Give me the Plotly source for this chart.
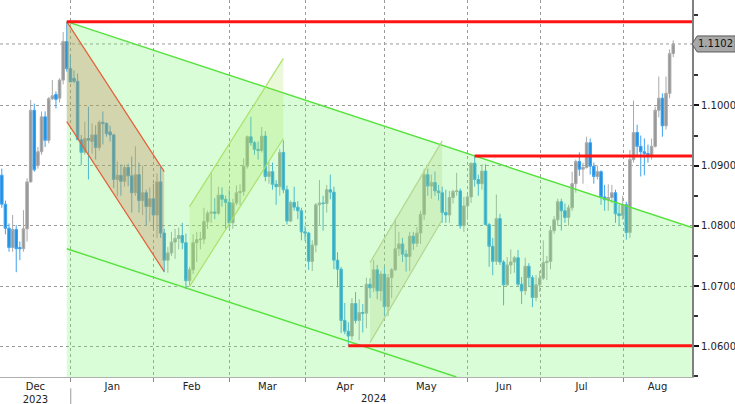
import plotly.graph_objects as go
import pandas as pd

# ---------------- data (EUR/USD daily candles) ----------------
dates = pd.bdate_range("2023-12-04", "2024-08-20")

opens = [
    1.0884, 1.0836, 1.0796, 1.0764, 1.0794, 1.0764, 1.0762, 1.0795, 1.0873, 1.0992,
    1.0900, 1.0923, 1.0981, 1.0942, 1.1011, 1.1018, 1.1012, 1.1042, 1.1106, 1.1061,
    # Jan
    1.1045, 1.1040, 1.0943, 1.0922, 1.0945, 1.0940, 1.0951, 1.0930, 1.0972, 1.0970,
    1.0956, 1.0951, 1.0877, 1.0884, 1.0874, 1.0897, 1.0883, 1.0855, 1.0885, 1.0842,
    1.0855, 1.0832, 1.0845,
    # Feb
    1.0818, 1.0873, 1.0788, 1.0743, 1.0755, 1.0773, 1.0779, 1.0784, 1.0772, 1.0709,
    1.0727, 1.0772, 1.0777, 1.0778, 1.0807, 1.0821, 1.0823, 1.0821, 1.0851, 1.0844,
    1.0839,
    # Mar
    1.0805, 1.0838, 1.0855, 1.0857, 1.0899, 1.0948, 1.0938, 1.0927, 1.0925, 1.0949,
    1.0882, 1.0890, 1.0869, 1.0865, 1.0922, 1.0860, 1.0808, 1.0839, 1.0831, 1.0825,
    1.0790,
    # Apr
    1.0788, 1.0741, 1.0768, 1.0835, 1.0838, 1.0837, 1.0860, 1.0856, 1.0743, 1.0728,
    1.0643, 1.0625, 1.0617, 1.0671, 1.0643, 1.0656, 1.0655, 1.0703, 1.0697, 1.0727,
    1.0692, 1.0720,
    # May
    1.0666, 1.0714, 1.0727, 1.0762, 1.0770, 1.0753, 1.0749, 1.0783, 1.0771, 1.0788,
    1.0819, 1.0885, 1.0866, 1.0872, 1.0858, 1.0855, 1.0822, 1.0818, 1.0847, 1.0857,
    1.0858, 1.0800, 1.0833,
    # Jun
    1.0848, 1.0904, 1.0877, 1.0870, 1.0891, 1.0802, 1.0766, 1.0741, 1.0812, 1.0740,
    1.0702, 1.0735, 1.0740, 1.0747, 1.0703, 1.0692, 1.0733, 1.0714, 1.0681, 1.0702,
    # Jul
    1.0713, 1.0739, 1.0741, 1.0792, 1.0810, 1.0840, 1.0825, 1.0814, 1.0830, 1.0870,
    1.0907, 1.0894, 1.0897, 1.0938, 1.0899, 1.0882, 1.0890, 1.0848, 1.0843, 1.0847,
    1.0855, 1.0820, 1.0817,
    # Aug
    1.0835, 1.0789, 1.0910, 1.0955, 1.0932, 1.0923, 1.0920, 1.0917, 1.0932, 1.0992,
    1.1012, 1.0966, 1.1020, 1.1086,
]
highs = [
    1.0895, 1.0842, 1.0804, 1.0818, 1.0801, 1.0774, 1.0826, 1.0879, 1.1009, 1.1003,
    1.0931, 1.0990, 1.0990, 1.1014, 1.1042, 1.1023, 1.1045, 1.1122, 1.1139, 1.1083,
    1.1058, 1.1053, 1.0951, 1.0973, 1.0998, 1.0970, 1.0967, 1.0975, 1.0990, 1.0972,
    1.0966, 1.0953, 1.0907, 1.0902, 1.0902, 1.0903, 1.0915, 1.0932, 1.0905, 1.0900,
    1.0860, 1.0864, 1.0870,
    1.0887, 1.0898, 1.0795, 1.0765, 1.0790, 1.0795, 1.0797, 1.0805, 1.0787, 1.0732,
    1.0786, 1.0790, 1.0790, 1.0830, 1.0825, 1.0888, 1.0846, 1.0865, 1.0864, 1.0850,
    1.0860,
    1.0845, 1.0867, 1.0869, 1.0912, 1.0950, 1.0981, 1.0941, 1.0940, 1.0964, 1.0957,
    1.0906, 1.0905, 1.0876, 1.0928, 1.0942, 1.0867, 1.0842, 1.0865, 1.0841, 1.0830,
    1.0800,
    1.0790, 1.0776, 1.0838, 1.0876, 1.0850, 1.0868, 1.0885, 1.0865, 1.0756, 1.0732,
    1.0672, 1.0640, 1.0680, 1.0690, 1.0678, 1.0670, 1.0714, 1.0713, 1.0743, 1.0735,
    1.0725, 1.0733,
    1.0720, 1.0730, 1.0812, 1.0790, 1.0780, 1.0760, 1.0790, 1.0790, 1.0798, 1.0825,
    1.0895, 1.0895, 1.0885, 1.0890, 1.0868, 1.0865, 1.0860, 1.0858, 1.0860, 1.0888,
    1.0862, 1.0848, 1.0852,
    1.0905, 1.0916, 1.0885, 1.0902, 1.0902, 1.0805, 1.0780, 1.0852, 1.0820, 1.0743,
    1.0748, 1.0761, 1.0750, 1.0760, 1.0715, 1.0747, 1.0738, 1.0718, 1.0718, 1.0725,
    1.0776, 1.0750, 1.0800, 1.0816, 1.0845, 1.0845, 1.0837, 1.0835, 1.0890, 1.0910,
    1.0922, 1.0905, 1.0948, 1.0945, 1.0905, 1.0900, 1.0892, 1.0868, 1.0869, 1.0868,
    1.0860, 1.0835, 1.0850,
    1.0840, 1.0926, 1.1008, 1.0968, 1.0950, 1.0945, 1.0935, 1.0945, 1.0998, 1.1048,
    1.1020, 1.1048, 1.1093, 1.1108,
]
lows = [
    1.0830, 1.0786, 1.0757, 1.0757, 1.0723, 1.0743, 1.0757, 1.0774, 1.0872, 1.0890,
    1.0895, 1.0918, 1.0931, 1.0937, 1.1009, 1.0995, 1.1005, 1.1035, 1.1056, 1.1039,
    1.1037, 1.0943, 1.0901, 1.0918, 1.0877, 1.0920, 1.0910, 1.0925, 1.0935, 1.0948,
    1.0940, 1.0863, 1.0849, 1.0850, 1.0865, 1.0866, 1.0822, 1.0850, 1.0822, 1.0818,
    1.0800, 1.0807, 1.0795,
    1.0780, 1.0780, 1.0723, 1.0722, 1.0750, 1.0745, 1.0761, 1.0761, 1.0695, 1.0701,
    1.0720, 1.0740, 1.0761, 1.0770, 1.0795, 1.0805, 1.0811, 1.0818, 1.0832, 1.0795,
    1.0796,
    1.0795, 1.0834, 1.0834, 1.0850, 1.0895, 1.0933, 1.0918, 1.0910, 1.0922, 1.0874,
    1.0870, 1.0860, 1.0835, 1.0850, 1.0854, 1.0802, 1.0806, 1.0825, 1.0811, 1.0776,
    1.0775,
    1.0727, 1.0725, 1.0756, 1.0800, 1.0792, 1.0822, 1.0844, 1.0728, 1.0698, 1.0622,
    1.0620, 1.0601, 1.0610, 1.0638, 1.0610, 1.0623, 1.0630, 1.0680, 1.0690, 1.0678,
    1.0675, 1.0650,
    1.0650, 1.0680, 1.0725, 1.0750, 1.0740, 1.0724, 1.0725, 1.0760, 1.0765, 1.0770,
    1.0810, 1.0850, 1.0845, 1.0850, 1.0842, 1.0805, 1.0805, 1.0805, 1.0837, 1.0850,
    1.0795, 1.0790, 1.0810,
    1.0838, 1.0865, 1.0850, 1.0860, 1.0801, 1.0732, 1.0718, 1.0735, 1.0735, 1.0668,
    1.0700, 1.0720, 1.0722, 1.0700, 1.0670, 1.0685, 1.0700, 1.0665, 1.0675, 1.0690,
    1.0710, 1.0710, 1.0728, 1.0787, 1.0800, 1.0792, 1.0805, 1.0800, 1.0825, 1.0855,
    1.0883, 1.0870, 1.0895, 1.0885, 1.0870, 1.0877, 1.0835, 1.0825, 1.0825, 1.0838,
    1.0805, 1.0800, 1.0810,
    1.0777, 1.0780, 1.0905, 1.0916, 1.0882, 1.0884, 1.0905, 1.0910, 1.0930, 1.0980,
    1.0948, 1.0960, 1.1012, 1.1080,
]
closes = [
    1.0836, 1.0796, 1.0764, 1.0794, 1.0762, 1.0762, 1.0795, 1.0873, 1.0992, 1.0893,
    1.0923, 1.0981, 1.0942, 1.1011, 1.1016, 1.1010, 1.1042, 1.1106, 1.1061, 1.1039,
    1.1040, 1.0943, 1.0922, 1.0945, 1.0942, 1.0951, 1.0930, 1.0972, 1.0970, 1.0953,
    1.0951, 1.0877, 1.0884, 1.0874, 1.0897, 1.0883, 1.0855, 1.0885, 1.0842, 1.0855,
    1.0832, 1.0845, 1.0818,
    1.0873, 1.0788, 1.0743, 1.0755, 1.0773, 1.0779, 1.0784, 1.0772, 1.0709, 1.0727,
    1.0772, 1.0777, 1.0778, 1.0807, 1.0821, 1.0823, 1.0821, 1.0851, 1.0844, 1.0839,
    1.0805,
    1.0838, 1.0855, 1.0857, 1.0899, 1.0948, 1.0938, 1.0927, 1.0925, 1.0949, 1.0882,
    1.0890, 1.0869, 1.0865, 1.0922, 1.0860, 1.0808, 1.0839, 1.0831, 1.0825, 1.0790,
    1.0788,
    1.0741, 1.0768, 1.0835, 1.0838, 1.0837, 1.0860, 1.0856, 1.0743, 1.0728, 1.0643,
    1.0625, 1.0617, 1.0671, 1.0643, 1.0656, 1.0655, 1.0703, 1.0697, 1.0727, 1.0692,
    1.0720, 1.0666,
    1.0714, 1.0727, 1.0762, 1.0770, 1.0753, 1.0749, 1.0783, 1.0771, 1.0788, 1.0819,
    1.0885, 1.0866, 1.0872, 1.0858, 1.0855, 1.0822, 1.0818, 1.0847, 1.0857, 1.0858,
    1.0800, 1.0833, 1.0848,
    1.0904, 1.0877, 1.0870, 1.0891, 1.0802, 1.0766, 1.0741, 1.0812, 1.0740, 1.0702,
    1.0735, 1.0740, 1.0747, 1.0703, 1.0692, 1.0733, 1.0714, 1.0681, 1.0702, 1.0713,
    1.0739, 1.0741, 1.0792, 1.0810, 1.0840, 1.0825, 1.0814, 1.0830, 1.0870, 1.0907,
    1.0894, 1.0897, 1.0938, 1.0899, 1.0882, 1.0890, 1.0848, 1.0843, 1.0847, 1.0855,
    1.0820, 1.0817, 1.0835,
    1.0789, 1.0910, 1.0955, 1.0932, 1.0923, 1.0920, 1.0917, 1.0932, 1.0992, 1.1012,
    1.0966, 1.1020, 1.1086, 1.1102,
]

assert len(opens) == len(highs) == len(lows) == len(closes) == len(dates)

# analyst drawings: anchors as (date, price)
main_channel_top = [("2023-12-28", 1.1139), ("2024-06-04", 1.0916)]
main_channel_width = 0.0377
bear_channel = {"start": "2023-12-28", "end": "2024-02-05",
                "top": (1.1139, 1.0890), "bottom": (1.0973, 1.0724)}
bull_channels = [
    {"start": "2024-02-14", "end": "2024-03-21",
     "top": (1.0832, 1.1078), "bottom": (1.0699, 1.0945)},
    {"start": "2024-04-24", "end": "2024-05-22",
     "top": (1.0739, 1.0941), "bottom": (1.0606, 1.0810)},
]
levels = [("2023-12-28", "high"), ("2024-06-04", "high"), ("2024-04-16", "low")]

y_major = [1.06, 1.07, 1.08, 1.09, 1.10]
y_minor = [1.055, 1.065, 1.075, 1.085, 1.095, 1.105, 1.115]

# ---------------- figure ----------------
x = list(range(len(dates)))


def idx(d):
    return int(dates.get_loc(pd.Timestamp(d)))


XMIN, XMAX = -0.5, 191.2
YMIN, YMAX = 1.0549, 1.1175

fig = go.Figure()
fig.add_trace(go.Candlestick(
    x=x, open=opens, high=highs, low=lows, close=closes,
    increasing=dict(line=dict(color="#a9a9a9", width=1), fillcolor="#979797"),
    decreasing=dict(line=dict(color="#3fa3ee", width=1), fillcolor="#1f8fe2"),
    whiskerwidth=0, showlegend=False,
    hovertext=[d.strftime("%d %b %Y") for d in dates], hoverinfo="text",
))

shapes = []


def path(pts):
    return "M " + " L ".join(f"{a:.4f},{b:.5f}" for a, b in pts) + " Z"


# main descending channel
(d0, p0), (d1, p1) = main_channel_top
k0, k1 = idx(d0), idx(d1)
slope = (p1 - p0) / (k1 - k0)
top_end = p0 + slope * (XMAX - k0)
shapes.append(dict(type="path", xref="x", yref="y", layer="above",
                   path=path([(k0, p0), (XMAX, top_end), (XMAX, YMIN), (k0, YMIN)]),
                   fillcolor="rgba(120,250,110,0.28)", line=dict(width=0)))
shapes.append(dict(type="line", xref="x", yref="y", x0=k0, y0=p0, x1=XMAX, y1=top_end,
                   line=dict(color="#55e23c", width=1.4)))
low0 = p0 - main_channel_width
k_exit = k0 + (YMIN - low0) / slope
shapes.append(dict(type="line", xref="x", yref="y", x0=k0, y0=low0, x1=k_exit, y1=YMIN,
                   line=dict(color="#55e23c", width=1.4)))

# bear channel (brown)
bs, be = idx(bear_channel["start"]), idx(bear_channel["end"])
bt, bb = bear_channel["top"], bear_channel["bottom"]
shapes.append(dict(type="path", xref="x", yref="y", layer="above",
                   path=path([(bs, bt[0]), (be, bt[1]), (be, bb[1]), (bs, bb[0])]),
                   fillcolor="rgba(200,120,80,0.30)", line=dict(width=0)))
for pr in (bt, bb):
    shapes.append(dict(type="line", xref="x", yref="y", x0=bs, y0=pr[0], x1=be, y1=pr[1],
                       line=dict(color="#e2603a", width=1.2)))

# bull channels
bull_styles = [("rgba(165,225,80,0.22)", "#a9e26a"), ("rgba(170,205,120,0.25)", "#b4d68f")]
for ch, (fc, lc) in zip(bull_channels, bull_styles):
    s, e = idx(ch["start"]), idx(ch["end"])
    t, b = ch["top"], ch["bottom"]
    shapes.append(dict(type="path", xref="x", yref="y", layer="above",
                       path=path([(s, t[0]), (e, t[1]), (e, b[1]), (s, b[0])]),
                       fillcolor=fc, line=dict(width=0)))
    for pr in (t, b):
        shapes.append(dict(type="line", xref="x", yref="y", x0=s, y0=pr[0], x1=e, y1=pr[1],
                           line=dict(color=lc, width=1.2)))

# horizontal levels
for d, kind in levels:
    k = idx(d)
    lvl = highs[k] if kind == "high" else lows[k]
    shapes.append(dict(type="line", xref="x", yref="y", x0=k, y0=lvl, x1=XMAX, y1=lvl,
                       line=dict(color="#ff1414", width=3)))

# last price dotted line and tag
last = closes[-1]
shapes.append(dict(type="line", xref="x", yref="y", x0=XMIN, y0=last, x1=XMAX, y1=last,
                   layer="below", line=dict(color="#9a9a9a", width=1, dash="dot")))
hh = 0.00133
shapes.append(dict(type="path", xref="paper", yref="y",
                   path=path([(1.0, last), (1.0075, last + hh), (1.0625, last + hh),
                              (1.0625, last - hh), (1.0075, last - hh)]),
                   fillcolor="#a8a8a8", line=dict(color="#5a5a5a", width=1)))

# month ticks
month_start = [i for i in range(len(dates)) if i == 0 or dates[i].month != dates[i - 1].month]
bounds = [i - 0.9 for i in month_start[1:]]
segs = [XMIN] + bounds + [XMAX]
centers = [(segs[j] + segs[j + 1]) / 2 for j in range(len(segs) - 1)]
labels = [dates[i].strftime("%b") for i in month_start]
labels[0] = labels[0] + "<br>" + str(dates[0].year)

# year separator and 2024 label
shapes.append(dict(type="line", xref="x", yref="paper", x0=bounds[0], x1=bounds[0],
                   y0=-0.030, y1=-0.075, line=dict(color="#9a9a9a", width=1)))

fig.update_layout(
    width=735, height=404,
    margin=dict(l=0, r=43, t=0, b=27),
    paper_bgcolor="white", plot_bgcolor="white",
    font=dict(family="DejaVu Sans", size=10, color="#222"),
    boxgap=0.3, boxgroupgap=0,
    shapes=shapes,
    showlegend=False,
    hovermode="closest",
    annotations=[
        dict(xref="paper", yref="y", x=1.0345, y=last, text=f"{last:.4f}", showarrow=False,
             font=dict(family="DejaVu Sans", size=10, color="#111"), xanchor="center",
             yanchor="middle"),
        dict(xref="x", yref="paper", x=(month_start[1] + len(dates) - 1) / 2, y=-0.056,
             text=str(dates[-1].year), showarrow=False, yanchor="middle",
             font=dict(family="DejaVu Sans", size=10, color="#222")),
    ],
)
fig.update_xaxes(
    range=[XMIN, XMAX], rangeslider=dict(visible=False),
    tickmode="array", tickvals=centers, ticktext=labels, ticks="",
    showgrid=False, zeroline=False,
    showline=True, linecolor="#b0b0b0", linewidth=1,
    minor=dict(tickmode="array", tickvals=bounds, ticks="outside", ticklen=4,
               tickcolor="#888", showgrid=True, gridcolor="#9a9a9a", griddash="dot",
               gridwidth=1),
    fixedrange=True,
)
fig.update_yaxes(
    side="right", range=[YMIN, YMAX],
    tickmode="array", tickvals=y_major, ticktext=[f"{v:.4f}" for v in y_major],
    ticks="outside", ticklen=5, tickwidth=2, tickcolor="#111",
    showgrid=True, gridcolor="#9a9a9a", griddash="dot", gridwidth=1,
    showline=True, linecolor="#808080", linewidth=2, zeroline=False,
    minor=dict(tickmode="array", tickvals=y_minor, ticks="outside", ticklen=4,
               tickcolor="#333", showgrid=False),
    fixedrange=True,
)

fig.write_html("out.html", config={"displayModeBar": False},
               post_script="document.body.style.margin='0';document.body.style.overflow='hidden';")
